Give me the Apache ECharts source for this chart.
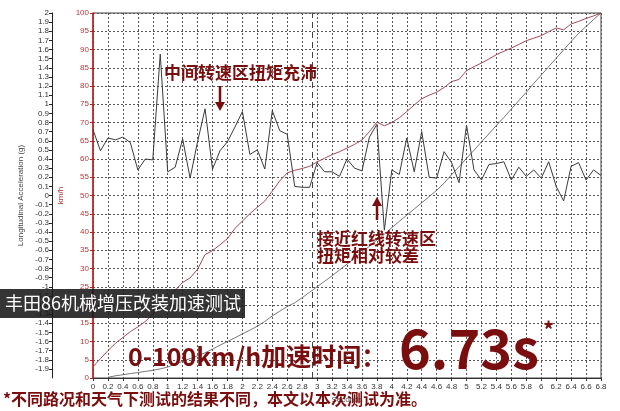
<!DOCTYPE html>
<html>
<head>
<meta charset="utf-8">
<script src="https://cdn.jsdelivr.net/npm/echarts@6/dist/echarts.min.js"></script>
<style>html,body{margin:0;padding:0;background:#fff;}#c{width:620px;height:411px;}</style>
</head>
<body>
<div id="c"></div>
<script>
// time stamps (s)
var times = [0,0.1,0.2,0.3,0.4,0.5,0.6,0.7,0.8,0.9,1,1.1,1.2,1.3,1.4,1.5,1.6,1.7,1.8,1.9,2,2.1,2.2,2.3,2.4,2.5,2.6,2.7,2.8,2.9,3,3.1,3.2,3.3,3.4,3.5,3.6,3.7,3.8,3.9,4,4.1,4.2,4.3,4.4,4.5,4.6,4.7,4.8,4.9,5,5.1,5.2,5.3,5.4,5.5,5.6,5.7,5.8,5.9,6,6.1,6.2,6.3,6.4,6.5,6.6,6.7,6.8];
// longitudinal acceleration (g)
var accel = [0.72,0.49,0.63,0.61,0.64,0.58,0.28,0.40,0.39,1.55,0.26,0.31,0.62,0.19,0.59,0.95,0.29,0.49,0.59,0.75,0.92,0.45,0.50,0.29,0.93,0.71,0.67,0.10,0.09,0.09,0.36,0.26,0.26,0.21,0.40,0.30,0.27,0.64,0.78,-0.38,0.28,0.23,0.63,0.26,0.70,0.20,0.19,0.48,0.36,0.14,0.77,0.28,0.17,0.34,0.35,0.37,0.17,0.31,0.21,0.28,0.19,0.37,0.10,-0.06,0.32,0.36,0.17,0.28,0.22];
// speed (km/h)
var speed = [3.1,5.3,7.5,9.5,11.1,12.7,14.0,15.5,17.5,19.5,22.0,24.0,26.2,27.4,29.8,33.8,34.9,36.5,38.2,41.0,43.0,45.0,46.8,48.5,51.2,54.0,56.2,56.9,57.4,58.0,59.2,60.2,61.2,62.0,63.0,64.0,65.2,67.5,70.1,69.1,70.0,71.3,73.0,74.8,76.5,77.5,78.3,79.6,81.2,81.8,84.2,85.3,86.3,87.4,88.6,89.5,90.4,91.4,92.4,93.1,93.8,94.9,95.9,95.4,97.0,97.7,98.5,99.2,100];
// distance-like curve (scaled to the km/h axis)
var dist = [null,null,0.2,0.6,0.9,1.2,1.5,1.8,2.1,2.5,3.0,3.8,4.6,5.3,6.1,6.9,7.9,9.0,10.0,11.0,12.1,13.1,14.2,15.5,17.0,18.3,19.6,20.6,22.0,23.5,25.0,26.5,28.0,29.6,31.2,32.8,34.5,36.1,37.8,39.4,41.2,42.9,44.6,46.3,48.0,49.7,51.4,53.4,55.7,57.9,60.2,62.4,64.7,66.9,69.2,71.4,73.7,76.0,78.3,80.7,83.0,85.3,87.6,89.9,92.2,94.4,96.3,98.2,100];
var shiftTime = 2.93;

function pairs(arr){ var out=[]; for(var i=0;i<times.length;i++){ out.push([times[i], arr[i]]); } return out; }

var RED = '#7a0d0d';
var FONT = 'Noto Sans CJK SC';
var chart = echarts.init(document.getElementById('c'));
var gridLine = {show:true, lineStyle:{color:'#555', type:[2,2], width:1}};
chart.setOption({
  animation:false,
  grid:{left:93, right:19, top:13, bottom:33, show:true, borderColor:'#444', borderWidth:1},
  xAxis:{type:'value', min:0, max:6.8, interval:0.2,
    name:'Seconds', nameLocation:'middle', nameGap:14, nameTextStyle:{fontSize:8, color:'#555'},
    axisLine:{onZero:false, lineStyle:{color:'#333'}}, axisTick:{show:true, length:3},
    axisLabel:{fontSize:8, color:'#333', margin:5, formatter:function(v){return (+v.toFixed(1))+'';}},
    splitLine:gridLine},
  yAxis:[
    {type:'value', min:-2, max:2, interval:0.1, position:'left', offset:41,
      name:'Longitudinal Acceleration (g)', nameLocation:'middle', nameGap:17, nameRotate:90,
      nameTextStyle:{fontSize:8, color:'#444'},
      axisLine:{show:true, onZero:false, lineStyle:{color:'#222'}}, axisTick:{show:true, length:3},
      axisLabel:{fontSize:8, color:'#333', margin:3, showMinLabel:false, formatter:function(v){return (+v.toFixed(1))+'';}},
      splitLine:{show:false}},
    {type:'value', min:0, max:100, interval:5, position:'left', offset:0,
      name:'km/h', nameLocation:'middle', nameGap:19, nameRotate:90,
      nameTextStyle:{fontSize:8, color:'#b03030'},
      axisLine:{show:true, onZero:false, lineStyle:{color:'#c81e1e', width:1.5}}, axisTick:{show:true, length:3, lineStyle:{color:'#c81e1e'}},
      axisLabel:{fontSize:8, color:'#b83a3a', margin:4},
      splitLine:gridLine}
  ],
  series:[
    {type:'line', name:'accel', yAxisIndex:0, data:pairs(accel), showSymbol:false, lineStyle:{color:'#3a3a3a', width:1}, z:3,
      markLine:{silent:true, symbol:'none', label:{show:false}, lineStyle:{color:'#444', type:[6,4], width:1},
        data:[{xAxis:shiftTime}]}},
    {type:'line', name:'speed', yAxisIndex:1, data:pairs(speed), showSymbol:false, lineStyle:{color:'#a24a55', width:1}, z:3},
    {type:'line', name:'dist', yAxisIndex:1, data:pairs(dist), showSymbol:false, connectNulls:false, lineStyle:{color:'#555', width:0.8}, z:3}
  ],
  graphic:[
    {type:'rect', z:100, shape:{x:0, y:289, width:245, height:29}, style:{fill:'rgba(25,25,25,0.88)'}},
    {type:'text', z:101, x:5, y:303.5, style:{text:'丰田86机械增压改装加速测试', fill:'#fff', font:'normal 18px "'+FONT+'"', textVerticalAlign:'middle'}},
    {type:'text', z:101, x:128, y:356, style:{text:'0-100km/h加速时间：', fill:RED, font:'bold 25px "'+FONT+'"', textVerticalAlign:'middle'}},
    {type:'text', z:101, x:399, y:348, style:{text:'6.73s', fill:RED, font:'bold 54px "'+FONT+'"', textVerticalAlign:'middle'}},
    {type:'text', z:101, x:543, y:330, style:{text:'*', fill:RED, font:'bold 22px "'+FONT+'"', textVerticalAlign:'middle'}},
    {type:'text', z:101, x:164, y:73, style:{text:'中间转速区扭矩充沛', fill:RED, font:'bold 17px "'+FONT+'"', textVerticalAlign:'middle'}},
    {type:'line', z:101, shape:{x1:220, y1:86, x2:220, y2:104}, style:{stroke:RED, lineWidth:2.5}},
    {type:'polygon', z:101, shape:{points:[[215,102],[225,102],[220,111]]}, style:{fill:RED}},
    {type:'line', z:101, shape:{x1:377, y1:220, x2:377, y2:204}, style:{stroke:RED, lineWidth:2.5}},
    {type:'polygon', z:101, shape:{points:[[372,206],[382,206],[377,197]]}, style:{fill:RED}},
    {type:'text', z:101, x:317, y:239, style:{text:'接近红线转速区', fill:RED, font:'bold 17px "'+FONT+'"', textVerticalAlign:'middle'}},
    {type:'text', z:101, x:317, y:256, style:{text:'扭矩相对较差', fill:RED, font:'bold 17px "'+FONT+'"', textVerticalAlign:'middle'}},
    {type:'text', z:101, x:3, y:399, style:{text:'*不同路况和天气下测试的结果不同，本文以本次测试为准。', fill:RED, font:'bold 16px "'+FONT+'"', textVerticalAlign:'middle'}}
  ]
});
</script>
</body>
</html>
